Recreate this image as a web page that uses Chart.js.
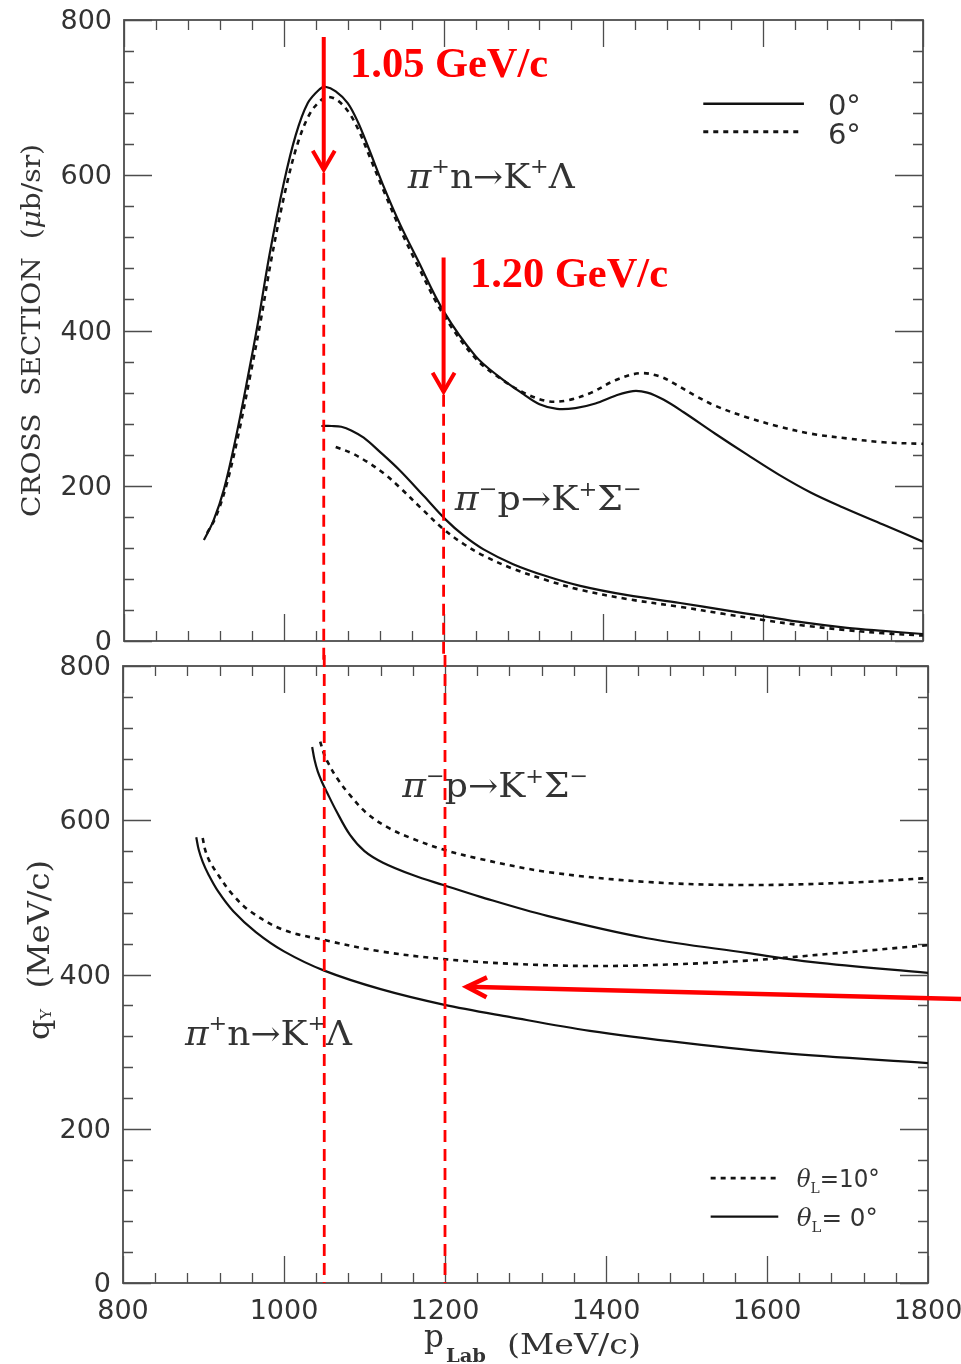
<!DOCTYPE html>
<html>
<head>
<meta charset="utf-8">
<script src="https://cdn.jsdelivr.net/npm/chart.js@4.4.1/dist/chart.umd.min.js"></script>
<style>
  html, body { margin: 0; padding: 0; background: #fff; }
  #wrap { position: relative; width: 961px; height: 1364px; overflow: hidden; background: #fff; }
  canvas { position: absolute; left: 0; }
  #xsChart { top: 0; }
  #qChart { top: 655px; }
</style>
</head>
<body>
<div id="wrap">
  <canvas id="xsChart" width="961" height="660"></canvas>
  <canvas id="qChart" width="961" height="709"></canvas>
</div>
<script>
// ---------------------------------------------------------------------------
// Upper panel: forward cross sections (μb/sr) against beam momentum p_Lab (MeV/c)
// ---------------------------------------------------------------------------
const pLambda0  = [900, 912, 925, 940, 955, 968, 982, 1000, 1015, 1030, 1045, 1052, 1065, 1080, 1093, 1105, 1124, 1145, 1167, 1200, 1240, 1270, 1300, 1320, 1342, 1365, 1390, 1415, 1437, 1455, 1475, 1500, 1540, 1580, 1620, 1660, 1700, 1750, 1800];
const xsLambda0 = [130, 155, 195, 262, 340, 412, 497, 590, 652, 693, 711, 714, 708, 693, 668, 638, 588, 538, 492, 425, 367, 340, 318, 305, 299, 300, 306, 316, 322, 320, 311, 295, 267, 240, 214, 191, 172, 150, 128];

const pLambda6  = [904, 915, 928, 943, 958, 971, 985, 1003, 1018, 1033, 1048, 1056, 1068, 1082, 1095, 1107, 1125, 1145, 1167, 1200, 1240, 1270, 1300, 1330, 1355, 1385, 1415, 1446, 1470, 1490, 1515, 1540, 1580, 1621, 1660, 1705, 1750, 1800];
const xsLambda6 = [139, 160, 200, 265, 342, 412, 495, 585, 643, 680, 698, 701, 696, 680, 655, 625, 580, 532, 485, 420, 364, 339, 320, 309, 310, 320, 336, 345, 341, 331, 316, 303, 288, 276, 267, 261, 256, 254];

const pSigma0  = [1047, 1060, 1072, 1085, 1100, 1120, 1145, 1175, 1202, 1225, 1250, 1287, 1330, 1371, 1430, 1496, 1550, 1600, 1650, 1705, 1750, 1800];
const xsSigma0 = [277, 277, 276, 271, 262, 244, 220, 187, 157, 136, 118, 99, 83, 71, 59, 49, 40, 32, 24, 17, 13, 9];

const pSigma6  = [1065, 1085, 1104, 1125, 1145, 1172, 1200, 1225, 1250, 1287, 1330, 1371, 1430, 1496, 1550, 1600, 1650, 1705, 1750, 1800];
const xsSigma6 = [250, 242, 231, 216, 198, 171, 144, 125, 110, 93, 78, 66, 54, 44, 35, 27, 20, 14, 10, 7];

// ---------------------------------------------------------------------------
// Lower panel: momentum transfer q_Y (MeV/c) against p_Lab (MeV/c)
// ---------------------------------------------------------------------------
const pQLambda0 = [891, 894, 899, 906, 918, 937, 965, 1000, 1050, 1120, 1198, 1280, 1380, 1500, 1620, 1800];
const qLambda0  = [578, 562, 546, 530, 508, 482, 455, 430, 405, 381, 361, 345, 327, 311, 298, 285];

const pQLambda10 = [899, 902, 907, 917, 935, 958, 999, 1053, 1120, 1198, 1280, 1380, 1480, 1575, 1680, 1800];
const qLambda10  = [577, 562, 548, 531, 505, 482, 458, 444, 430, 420, 414, 411, 413, 418, 427, 438];

const pQSigma0 = [1035, 1038, 1042, 1047, 1053, 1065, 1082, 1100, 1123, 1160, 1198, 1243, 1327, 1451, 1575, 1657, 1800];
const qSigma0  = [695, 678, 663, 650, 637, 612, 581, 560, 545, 529, 516, 501, 476, 447, 428, 416, 402];

const pQSigma10 = [1045, 1050, 1056, 1065, 1080, 1103, 1130, 1160, 1198, 1243, 1327, 1451, 1575, 1699, 1800];
const qSigma10  = [702, 685, 672, 656, 635, 609, 590, 576, 562, 550, 533, 520, 516, 519, 525];

// Axis ticks
const xTickValues = [800, 1000, 1200, 1400, 1600, 1800];
const yTickValues = [0, 200, 400, 600, 800];

// Highlighted beam momenta (MeV/c) and their captions
const markedMomenta = [1050, 1200];
const markedLabels  = ['1.05 GeV/c', '1.20 GeV/c'];

// Legend texts
const xsLegend = ['0°', '6°'];
const qLegend  = ['10°', ' 0°'];

// ---------------------------------------------------------------------------
const SERIF = '"DejaVu Serif", "Liberation Serif", serif';
const SANS  = '"DejaVu Sans", "Liberation Sans", sans-serif';
const RED_SERIF = '"Liberation Serif", "Times New Roman", serif';
const INK = '#111';
const TEXT = '#333';
const AXIS = '#4d4d4d';
const RED = '#ff0000';

const zip = (xs, ys) => xs.map((x, i) => ({ x, y: ys[i] }));

function curve(xs, ys, dotted) {
  return {
    data: zip(xs, ys),
    borderColor: INK,
    borderWidth: dotted ? 2.6 : 2.2,
    borderDash: dotted ? [5, 5] : [],
    pointRadius: 0,
    fill: false,
    tension: 0.35
  };
}

function pt(chart, xv, yv) {
  return [chart.scales.x.getPixelForValue(xv), chart.scales.y.getPixelForValue(yv)];
}

// Draws a run of text pieces (normal / superscript / subscript), optionally
// squeezed horizontally so the whole run spans `width` pixels.
function drawRich(ctx, segs, x, y, opts = {}) {
  let total = 0;
  const widths = segs.map(s => {
    ctx.font = s.font;
    const w = ctx.measureText(s.text).width;
    total += w;
    return w;
  });
  const sx = opts.width ? opts.width / total : 1;
  ctx.save();
  ctx.translate(x, y);
  if (opts.rotate) ctx.rotate(opts.rotate);
  ctx.scale(sx, 1);
  ctx.textBaseline = 'alphabetic';
  ctx.textAlign = 'left';
  let cx = opts.align === 'center' ? -total / 2 : 0;
  segs.forEach((s, i) => {
    ctx.font = s.font;
    ctx.fillText(s.text, cx, s.dy || 0);
    cx += widths[i];
  });
  ctx.restore();
}

const lambdaReaction = [['π', 'it'], ['+', 'sup'], ['n', 'n'], ['→', 'n'], ['K', 'n'], ['+', 'sup'], ['Λ', 'n']];
const sigmaReaction  = [['π', 'it'], ['−', 'sup'], ['p', 'n'], ['→', 'n'], ['K', 'n'], ['+', 'sup'], ['Σ', 'n'], ['−', 'sup']];

function reactionSegs(parts, size) {
  return parts.map(([t, kind]) => {
    if (kind === 'sup') return { text: t, font: `${Math.round(size * 0.62)}px ${SERIF}`, dy: -size * 0.42 };
    if (kind === 'it') return { text: t, font: `italic ${size}px ${SERIF}`, dy: 0 };
    return { text: t, font: `${size}px ${SERIF}`, dy: 0 };
  });
}

function arrow(ctx, x0, y0, x1, y1, head, half, width) {
  const dx = x1 - x0, dy = y1 - y0, L = Math.hypot(dx, dy);
  const ux = dx / L, uy = dy / L, nx = -uy, ny = ux;
  ctx.save();
  ctx.strokeStyle = RED;
  ctx.lineWidth = width;
  ctx.lineCap = 'butt';
  ctx.beginPath();
  ctx.moveTo(x0, y0); ctx.lineTo(x1, y1);
  ctx.stroke();
  ctx.lineJoin = 'miter';
  ctx.beginPath();
  ctx.moveTo(x1 - head * ux + half * nx, y1 - head * uy + half * ny);
  ctx.lineTo(x1, y1);
  ctx.lineTo(x1 - head * ux - half * nx, y1 - head * uy - half * ny);
  ctx.stroke();
  ctx.restore();
}

function dashedRed(ctx, x, y0, y1) {
  ctx.save();
  ctx.strokeStyle = RED;
  ctx.lineWidth = 2.8;
  ctx.setLineDash([12, 7]);
  ctx.beginPath();
  ctx.moveTo(x, y0); ctx.lineTo(x, y1);
  ctx.stroke();
  ctx.restore();
}

// Closed frame with inward ticks on all four sides (minor every 40, major every 200)
const frameTicks = {
  id: 'frameTicks',
  beforeDatasetsDraw(chart) {
    const { ctx, chartArea: a, scales: { x, y } } = chart;
    ctx.save();
    ctx.strokeStyle = AXIS;
    ctx.lineWidth = 1.3;
    ctx.beginPath();
    for (let v = x.min; v <= x.max + 1e-6; v += 40) {
      const px = Math.round(x.getPixelForValue(v)) + 0.5;
      const len = v % 200 === 0 ? 27 : 10;
      ctx.moveTo(px, a.bottom); ctx.lineTo(px, a.bottom - len);
      ctx.moveTo(px, a.top); ctx.lineTo(px, a.top + len);
    }
    for (let v = y.min; v <= y.max + 1e-6; v += 40) {
      const py = Math.round(y.getPixelForValue(v)) + 0.5;
      const len = v % 200 === 0 ? 28 : 10;
      ctx.moveTo(a.left, py); ctx.lineTo(a.left + len, py);
      ctx.moveTo(a.right, py); ctx.lineTo(a.right - len, py);
    }
    ctx.stroke();
    ctx.lineWidth = 1.8;
    ctx.strokeRect(a.left, a.top, a.right - a.left, a.bottom - a.top);
    ctx.restore();
  }
};

function yScale(width) {
  return {
    type: 'linear', min: 0, max: 800,
    afterBuildTicks: s => { s.ticks = yTickValues.map(v => ({ value: v })); },
    ticks: { color: TEXT, font: { family: SANS, size: 27 }, padding: 12, labelOffset: 2, callback: v => String(v) },
    grid: { display: false, drawTicks: false },
    border: { display: false },
    afterFit: s => { s.width = width; s.paddingTop = 0; s.paddingBottom = 0; }
  };
}

// ---------------------------------------------------------------------------
// Upper chart annotations
// ---------------------------------------------------------------------------
const xsNotes = {
  id: 'xsNotes',
  afterDatasetsDraw(chart) {
    const { ctx, chartArea: a } = chart;
    ctx.save();
    ctx.fillStyle = TEXT;

    // reaction labels
    let [lx, ly] = pt(chart, 1155, 584);
    drawRich(ctx, reactionSegs(lambdaReaction, 34), lx, ly, { width: 167 });
    [lx, ly] = pt(chart, 1214, 169);
    drawRich(ctx, reactionSegs(sigmaReaction, 34), lx, ly, { width: 187 });

    // legend
    const ds = chart.data.datasets;
    const rows = [[ds[0], 692, 678, 1651], [ds[1], 656, 640, 1646]];
    rows.forEach(([d, yl, yt, xe], i) => {
      const [x0, y0] = pt(chart, 1525, yl);
      const [x1] = pt(chart, xe, yl);
      ctx.save();
      ctx.strokeStyle = d.borderColor;
      ctx.lineWidth = d.borderWidth + 0.3;
      ctx.setLineDash(d.borderDash);
      ctx.beginPath(); ctx.moveTo(x0, y0); ctx.lineTo(x1, y0); ctx.stroke();
      ctx.restore();
      const [tx, ty] = pt(chart, 1681, yt);
      ctx.font = `29px ${SANS}`;
      ctx.textBaseline = 'alphabetic';
      ctx.fillText(xsLegend[i], tx, ty);
    });

    // y-axis title
    drawRich(ctx, [
      { text: 'CROSS  SECTION  (', font: `26px ${SERIF}` },
      { text: 'μ', font: `italic 26px ${SERIF}` },
      { text: 'b/sr)', font: `26px ${SERIF}` }
    ], a.left - 84, (a.top + a.bottom) / 2, { width: 373, align: 'center', rotate: -Math.PI / 2 });
    ctx.restore();

    // highlighted momenta: arrows, dashed guides, captions
    const arrowSpans = [[778, 607], [494, 321]];
    const captionAt = [[1083, 727], [1233, 456]];
    markedMomenta.forEach((p, i) => {
      const [ax, ay0] = pt(chart, p, arrowSpans[i][0]);
      const [, ay1] = pt(chart, p, arrowSpans[i][1]);
      dashedRed(ctx, ax, ay1 + 3, chart.height);
      arrow(ctx, ax, ay0, ax, ay1, 19, 11, 4);
      const [cx, cy] = pt(chart, captionAt[i][0], captionAt[i][1]);
      ctx.save();
      ctx.fillStyle = RED;
      drawRich(ctx, [{ text: markedLabels[i], font: `bold 42px ${RED_SERIF}` }], cx, cy, { width: 198 });
      ctx.restore();
    });
  }
};

// ---------------------------------------------------------------------------
// Lower chart annotations
// ---------------------------------------------------------------------------
const qNotes = {
  id: 'qNotes',
  afterDatasetsDraw(chart) {
    const { ctx, chartArea: a } = chart;
    ctx.save();
    ctx.fillStyle = TEXT;

    let [lx, ly] = pt(chart, 1147, 630);
    drawRich(ctx, reactionSegs(sigmaReaction, 34), lx, ly, { width: 186 });
    [lx, ly] = pt(chart, 877, 309);
    drawRich(ctx, reactionSegs(lambdaReaction, 34), lx, ly, { width: 167 });

    // legend: dotted (10°) above solid (0°)
    const ds = chart.data.datasets;
    const rows = [[ds[1], 136, 124.5], [ds[0], 86, 74]];
    rows.forEach(([d, yl, yt], i) => {
      const [x0, y0] = pt(chart, 1530, yl);
      const [x1] = pt(chart, 1614, yl);
      ctx.save();
      ctx.strokeStyle = d.borderColor;
      ctx.lineWidth = d.borderWidth;
      ctx.setLineDash(d.borderDash);
      ctx.beginPath(); ctx.moveTo(x0, y0); ctx.lineTo(x1, y0); ctx.stroke();
      ctx.restore();
      const [tx, ty] = pt(chart, 1637, yt);
      drawRich(ctx, [
        { text: 'θ', font: `italic 25px ${SERIF}` },
        { text: 'L', font: `15px ${SERIF}`, dy: 6 },
        { text: '=' + qLegend[i], font: `25px ${SANS}` }
      ], tx, ty, { width: i === 0 ? 83 : 81 });
    });

    // y-axis title  q_Y (MeV/c)
    drawRich(ctx, [
      { text: 'q', font: `30px ${SERIF}` },
      { text: 'Y', font: `15px ${SERIF}`, dy: 2 },
      { text: '  (MeV/c)', font: `30px ${SERIF}` }
    ], a.left - 74, 295, { width: 180, align: 'center', rotate: -Math.PI / 2 });

    // x-axis title  p_Lab (MeV/c)
    ctx.font = `31px ${SERIF}`;
    ctx.textBaseline = 'alphabetic';
    ctx.fillText('p', 424, 692);
    drawRich(ctx, [{ text: 'Lab', font: `bold 18px ${SERIF}` }], 446, 707, { width: 40 });
    drawRich(ctx, [{ text: '(MeV/c)', font: `28px ${SERIF}` }], 507, 699, { width: 134 });
    ctx.restore();

    // dashed guides continuing from the upper panel
    markedMomenta.forEach(p => {
      const [gx, gy] = pt(chart, p, 0);
      dashedRed(ctx, gx, 0, gy);
    });

    // pointer arrow entering from the right edge
    const [t0x, t0y] = pt(chart, 1845, 368);
    const [t1x, t1y] = pt(chart, 1227, 384);
    arrow(ctx, t0x, t0y, t1x, t1y, 20, 10, 4.5);
  }
};

Chart.defaults.font.family = SANS;

new Chart(document.getElementById('xsChart'), {
  type: 'line',
  data: {
    datasets: [
      curve(pLambda0, xsLambda0, false),
      curve(pLambda6, xsLambda6, true),
      curve(pSigma0, xsSigma0, false),
      curve(pSigma6, xsSigma6, true)
    ]
  },
  options: {
    responsive: false,
    animation: false,
    layout: { padding: { top: 20, right: 38, left: 0, bottom: 0 } },
    plugins: { legend: { display: false }, tooltip: { enabled: false } },
    scales: {
      x: {
        type: 'linear', min: 800, max: 1800,
        ticks: { display: false },
        grid: { display: false, drawTicks: false },
        border: { display: false },
        afterFit: s => { s.height = 19; s.paddingLeft = 0; s.paddingRight = 0; }
      },
      y: yScale(124)
    }
  },
  plugins: [frameTicks, xsNotes]
});

new Chart(document.getElementById('qChart'), {
  type: 'line',
  data: {
    datasets: [
      curve(pQLambda0, qLambda0, false),
      curve(pQLambda10, qLambda10, true),
      curve(pQSigma0, qSigma0, false),
      curve(pQSigma10, qSigma10, true)
    ]
  },
  options: {
    responsive: false,
    animation: false,
    layout: { padding: { top: 11, right: 33, left: 0, bottom: 0 } },
    plugins: { legend: { display: false }, tooltip: { enabled: false } },
    scales: {
      x: {
        type: 'linear', min: 800, max: 1800,
        afterBuildTicks: s => { s.ticks = xTickValues.map(v => ({ value: v })); },
        ticks: { color: TEXT, font: { family: SANS, size: 27 }, padding: 13, maxRotation: 0, callback: v => String(v) },
        grid: { display: false, drawTicks: false },
        border: { display: false },
        afterFit: s => { s.height = 81; s.paddingLeft = 0; s.paddingRight = 0; }
      },
      y: yScale(123)
    }
  },
  plugins: [frameTicks, qNotes]
});
</script>
</body>
</html>
